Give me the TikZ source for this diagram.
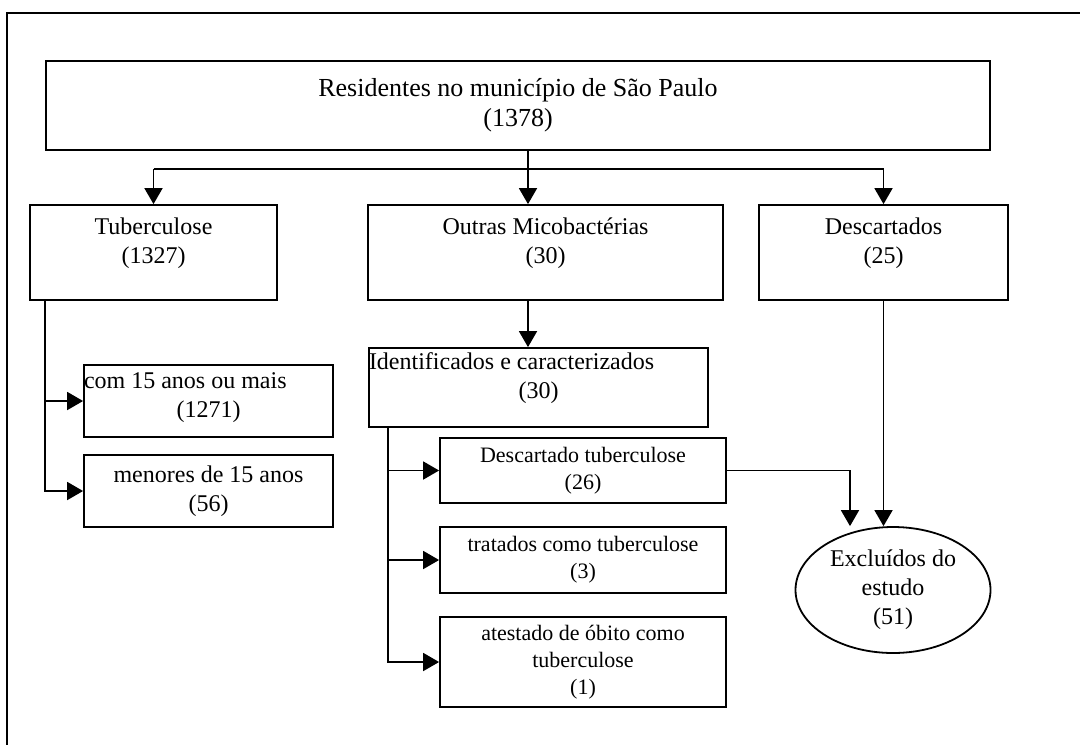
\documentclass[tikz,border=0pt]{standalone}
\usepackage{fontspec}
\setmainfont{Liberation Serif}
\usetikzlibrary{arrows.meta, shapes.geometric}
\tikzset{
    x=0.5pt, y=-0.5pt, % one unit per pixel of the scan, y pointing down
    >={Triangle[width=9pt, length=8pt]}, % big filled arrow heads
    every node/.style={font=\fontsize{12}{14.5}\selectfont},
    box/.style={draw, rectangle, align=center, inner sep=0pt}, % plain boxes
    lifted/.style={text depth=12pt}, % text sits a bit above the middle
    smallbox/.style={box, font=\fontsize{11}{13.5}\selectfont}, % boxes of the lower branch
    exit/.style={draw, ellipse, align=center, inner sep=0pt}, % final node
    }
% first line flush left, normal spaces
\newcommand{\flushline}[1]{\makebox[\hsize][l]{\spaceskip=0pt\xspaceskip=0pt #1}}

\begin{document}
\begin{tikzpicture}[line width=0.9pt]
    \useasboundingbox (0,0) rectangle (1080,745);
    % frame of the scanned page
    \draw (1080,13) -- (7,13) -- (7,745);

    \node[box, font=\fontsize{13}{15}\selectfont, minimum width=472pt, minimum height=44.5pt] (res) at (518,105.5) {Residentes no município de São Paulo\\(1378)};
    \node[box, lifted, minimum width=123.5pt, minimum height=47.5pt] (tub) at (153.5,252.5) {Tuberculose\\(1327)};
    \node[box, lifted, minimum width=177.5pt, minimum height=47.5pt] (outras) at (545.5,252.5) {Outras Micobactérias\\(30)};
    \node[box, lifted, minimum width=124.5pt, minimum height=47.5pt] (desc) at (883.5,252.5) {Descartados\\(25)};

    \node[box, text width=169.5pt, text depth=26pt, minimum height=39.5pt] (ident) at (538.5,387.5) {\flushline{Identificados e caracterizados}\\(30)};
    \node[box, text width=124.5pt, text depth=20pt, minimum height=36pt] (maior) at (208.5,401) {\flushline{com 15 anos ou mais}\\(1271)};
    \node[box, minimum width=124.5pt, minimum height=36pt] (menor) at (208.5,491) {menores de 15 anos\\(56)};

    \node[smallbox, minimum width=143pt, minimum height=32.5pt] (desctub) at (583,470.5) {Descartado tuberculose\\(26)};
    \node[smallbox, minimum width=143pt, minimum height=33pt] (trat) at (583,560) {tratados como tuberculose\\(3)};
    \node[smallbox, minimum width=143pt, minimum height=45pt] (atest) at (583,662) {atestado de óbito como\\tuberculose\\(1)};

    \node[exit, minimum width=97.5pt, minimum height=63pt] (excl) at (893,590) {Excluídos do\\estudo\\(51)};

    % first split
    \coordinate (split) at (528,169);
    \draw (res.south -| split) -- (split);
    \draw (tub.north |- split) -- (desc.north |- split);
    \foreach \n in {tub, desc}
        \draw[->] (\n.north |- split) -- (\n.north);
    \draw[->] (split) -- (split |- outras.north);
    \draw[->] (split |- outras.south) -- (split |- ident.north);

    % age groups
    \coordinate (tubfoot) at (45,300);
    \foreach \n in {maior, menor}
        \draw[->] (tubfoot) |- (\n.west);

    % outcome of the other mycobacteria
    \coordinate (identfoot) at (388,427);
    \foreach \n in {desctub, trat, atest}
        \draw[->] (identfoot) |- (\n.west);

    % excluded
    \draw[->] (desctub.east) -| ([xshift=-21.5pt]excl.north);
    \draw[->] (desc.south) -- (desc.south |- excl.north);
\end{tikzpicture}
\end{document}
